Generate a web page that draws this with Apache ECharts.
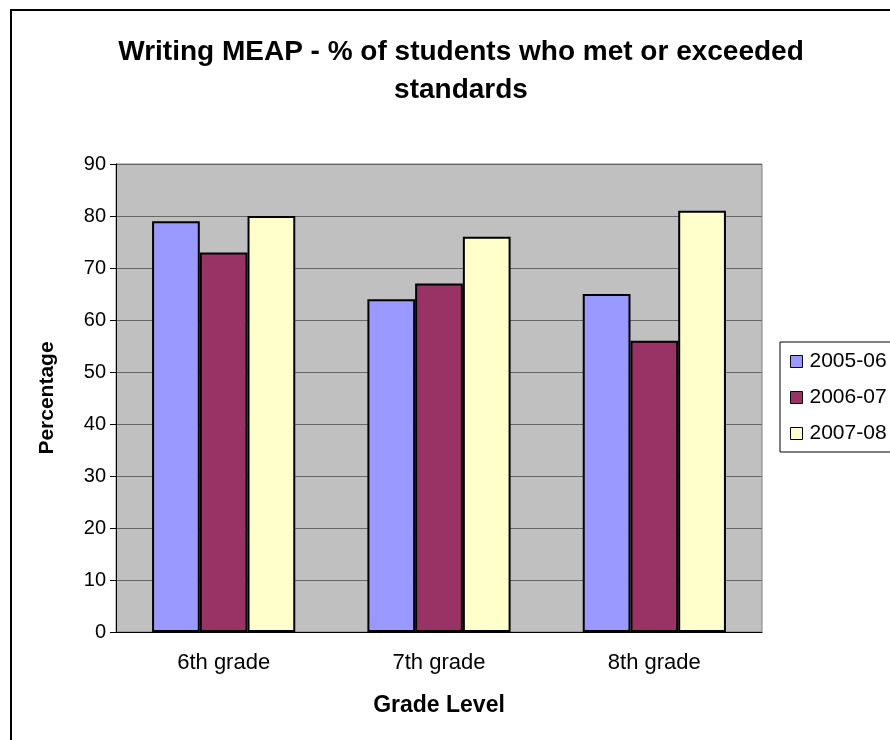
<!DOCTYPE html>
<html><head><meta charset="utf-8">
<script src="https://cdn.jsdelivr.net/npm/echarts@6/dist/echarts.min.js"></script>
<style>html,body{margin:0;padding:0;background:#fff}#c{width:890px;height:740px}</style>
</head><body><div id="c"></div>
<script>
var categories = ['6th grade', '7th grade', '8th grade'];
var seriesNames = ['2005-06', '2006-07', '2007-08'];
var s2005 = [79, 64, 65];
var s2006 = [73, 67, 56];
var s2007 = [80, 76, 81];
var colors = ['#9999FF', '#993366', '#FFFFCC'];
var font = 'Liberation Sans, Arial, sans-serif';
var chart = echarts.init(document.getElementById('c'));
var data = [s2005, s2006, s2007];
chart.setOption({
  animation: false,
  backgroundColor: '#fff',
  graphic: [{type: 'rect', shape: {x: 11, y: 10, width: 900, height: 760}, style: {fill: 'none', stroke: '#000', lineWidth: 2}, z: 0}],
  title: {
    text: 'Writing MEAP - % of students who met or exceeded\nstandards',
    left: 456, textAlign: 'center', top: 28,
    textStyle: {fontFamily: font, fontSize: 28, fontWeight: 'bold', color: '#000', lineHeight: 38}
  },
  legend: {
    orient: 'vertical', left: 780, top: 342,
    itemWidth: 12, itemHeight: 12, itemGap: 15, icon: 'rect',
    borderColor: '#000', borderWidth: 1, padding: [9, 10, 8, 10],
    textStyle: {fontFamily: font, fontSize: 21, color: '#000', padding: [0, 0, 0, 2]},
    itemStyle: {borderColor: '#000', borderWidth: 1},
    data: seriesNames
  },
  grid: {left: 116, right: 128, top: 164, bottom: 108, show: true, backgroundColor: '#C0C0C0', borderColor: '#808080', borderWidth: 1},
  xAxis: {
    type: 'category', data: categories,
    name: 'Grade Level', nameLocation: 'middle', nameGap: 62,
    nameTextStyle: {fontFamily: font, fontSize: 23, fontWeight: 'bold', color: '#000'},
    axisLine: {lineStyle: {color: '#000'}},
    axisTick: {length: 6, lineStyle: {color: '#000'}},
    axisLabel: {fontFamily: font, fontSize: 22, color: '#000', margin: 20}
  },
  yAxis: {
    type: 'value', min: 0, max: 90, interval: 10,
    name: 'Percentage', nameLocation: 'middle', nameGap: 58, nameRotate: 90,
    nameTextStyle: {fontFamily: font, fontSize: 21, fontWeight: 'bold', color: '#000'},
    axisLine: {show: true, lineStyle: {color: '#000'}},
    axisTick: {show: true, length: 6, lineStyle: {color: '#000'}},
    axisLabel: {fontFamily: font, fontSize: 20, color: '#000', margin: 10},
    splitLine: {lineStyle: {color: '#666666', width: 1}}
  },
  series: seriesNames.map(function (n, i) {
    return {
      name: n, type: 'bar', data: data[i],
      barGap: '0%', barCategoryGap: '33.5%',
      itemStyle: {color: colors[i], borderColor: '#000', borderWidth: 2}
    };
  })
});
</script></body></html>
